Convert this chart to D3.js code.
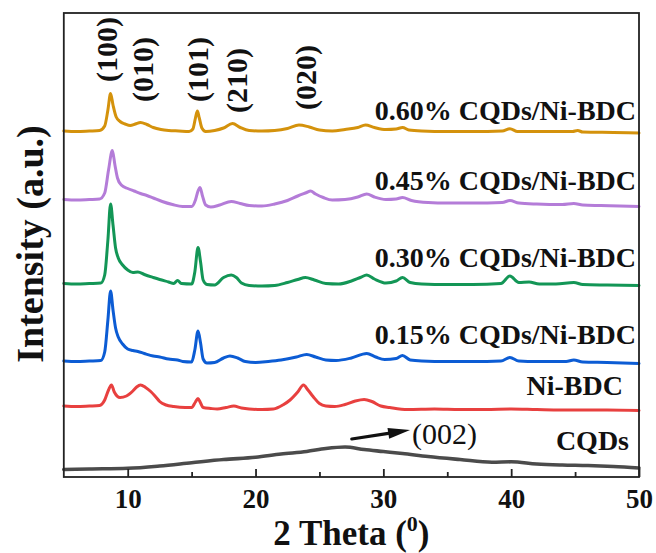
<!DOCTYPE html>
<html>
<head>
<meta charset="utf-8">
<script src="https://cdn.jsdelivr.net/npm/d3@7"></script>
<style>
  body { margin: 0; background: #fff; }
  text { font-family: "Times New Roman", "Liberation Serif", serif; fill: #111; }
</style>
</head>
<body>
<svg id="chart" width="656" height="553"></svg>
<script>
// 2θ axis ticks
const xMajorTicks = [10, 20, 30, 40, 50];
const xMinorTicks = [15, 25, 35, 45];

// Sample names, bottom to top, and their trace colours
const seriesNames = ["CQDs", "Ni-BDC", "0.15% CQDs/Ni-BDC", "0.30% CQDs/Ni-BDC", "0.45% CQDs/Ni-BDC", "0.60% CQDs/Ni-BDC"];
const seriesColors = ["#4b4b4b", "#e8403f", "#0c5cd4", "#139656", "#b47cd8", "#d4920c"];

// XRD patterns, [2θ (deg), stacked intensity (a.u.)]
const cqds = [[5,7.5],[7,8],[10,8.7],[12.5,11],[15,14.3],[17.5,17.5],[20,19.7],[22,23],[24,25.5],[25.5,28.5],[27,30],[28.5,27.5],[30,25.5],[31.5,23.5],[33.5,20.5],[36,17.5],[38.5,14.8],[40,15.2],[42,13],[44,12],[46,11.5],[48,10.5],[50,9]];
const niBdc = [[5,71],[6,70.5],[7,71],[7.8,71.5],[8.2,77],[8.5,87],[8.73,92],[8.95,85],[9.4,79.5],[9.9,81],[10.4,86],[10.7,90],[11,92],[11.4,89.5],[11.8,85.5],[12.2,80],[12.5,75.5],[13,72],[13.6,70.5],[14.5,69.5],[15,69.5],[15.3,75],[15.5,78.5],[15.7,74],[15.9,69.5],[16.5,68.5],[17,68],[17.7,69.5],[18.3,71],[18.9,69],[19.5,68],[20.5,67.5],[21.4,68],[22.2,72.5],[22.7,77],[23.3,85],[23.75,92],[24.1,87],[24.5,80.5],[25,73.5],[25.5,71],[26.2,70.5],[27,72.5],[27.8,76],[28.5,77.5],[29.1,75.5],[29.8,71],[30.5,69.5],[31.9,67.5],[34,68],[36,67.5],[38,67.5],[40,68],[42,67.5],[45,67],[47.5,67],[50,66.5]];
const cqd015 = [[5,116],[6,115.5],[7,116],[7.9,116.5],[8.2,125],[8.45,157],[8.66,186],[8.85,167],[9.05,149],[9.26,140],[9.6,133],[10,128],[10.4,126.5],[10.8,125.5],[11.3,123.5],[12,121],[12.5,120],[13.2,118],[13.9,117],[14.3,115.5],[15,115],[15.25,127],[15.5,146],[15.7,134],[15.9,118],[16.2,114],[16.8,114.5],[17.5,119],[18,121],[18.6,119],[19.2,115.5],[20,114.5],[21,115.5],[22,117],[23.2,120],[24,122.5],[24.7,120],[25.5,117],[26.3,116.5],[27.5,119],[28.7,123.5],[29.4,120],[30.1,117.5],[31,118.5],[31.5,121.5],[32.1,117],[33,116],[35,115.5],[37,115.5],[39.2,116],[39.9,119.5],[40.6,116],[42,115.5],[44.3,115.5],[44.9,117],[45.6,115],[47.5,114.5],[50,113.5]];
const cqd030 = [[5,193.5],[6,193],[7,193.5],[7.9,194],[8.2,202],[8.45,237],[8.66,273],[8.85,252],[9.05,229],[9.26,219],[9.6,212],[10,207],[10.4,204.5],[10.8,205],[11.3,202.5],[12,199.5],[12.5,197.5],[13.2,195],[13.6,193.5],[13.9,196.5],[14.2,193.5],[15,193],[15.25,205],[15.5,229.5],[15.7,215],[15.9,197],[16.2,192.5],[16.8,192],[17.5,199.5],[18.1,202],[18.5,199.5],[18.9,194],[19.5,191.5],[20.5,191],[21.5,191.5],[22.5,194.5],[23.3,197.5],[23.9,199.5],[24.6,197],[25.5,193.5],[26.5,193],[27.5,196],[28.2,199.5],[28.7,202],[29.3,198],[30.2,194],[31,196],[31.5,199.5],[32.1,194.5],[33,193],[35,192.5],[37,192.5],[39.2,193.5],[39.9,201],[40.6,194.5],[41.4,195],[42.2,193],[43.5,193],[44.9,194.5],[45.6,192.5],[47.5,192],[50,191.5]];
const cqd045 = [[5,277.5],[6,277],[7,277.5],[7.8,278],[8.2,284],[8.5,307],[8.8,326.5],[9,312],[9.2,299],[9.5,292],[10,288.5],[10.5,286],[11,283.5],[11.5,281.5],[12,279],[12.7,275.5],[13.5,272.5],[14.3,270.5],[15,270.5],[15.3,277],[15.5,286],[15.66,289.5],[15.85,281],[16.1,272],[16.5,270],[17.2,272],[18.1,275.5],[18.8,273.5],[19.5,271.5],[20.5,271],[21.5,273],[22.5,276.5],[23.3,281],[24,284.5],[24.3,286],[24.7,283],[25.3,279.5],[26,277],[27,277.5],[28,280],[28.7,283],[29.3,280],[30.2,277.5],[31,278],[31.5,279.5],[32.2,276.5],[33.5,274.5],[35,274],[37,274],[39.3,274.5],[39.9,276.5],[40.6,274],[42,273],[44,272.5],[44.9,273.5],[45.6,272],[47,271.5],[48.5,271],[50,270.5]];
const cqd060 = [[5,346],[6,345.5],[7,346],[7.8,346.5],[8.2,351],[8.45,367],[8.66,383.5],[8.85,372],[9.1,360],[9.4,355.5],[9.8,353],[10.2,351.5],[10.6,353],[11,354.5],[11.5,352.5],[12,349.5],[12.6,347.5],[13.2,346.5],[14,346],[14.8,345.5],[15.1,348],[15.3,359],[15.45,366],[15.6,359],[15.8,349],[16.1,345.5],[16.8,346.5],[17.5,349],[18.2,353.5],[18.8,349.5],[19.5,346.5],[20.5,346],[21.5,346.5],[22.5,348.5],[23.4,352],[24.2,350],[25,347],[26,346],[27,347.5],[28,349.5],[28.6,352],[29.3,349.5],[30.2,347.5],[31,348],[31.5,349.5],[32,347],[33,346],[35,345.5],[37,345.5],[39.3,346],[39.9,348.3],[40.5,345.5],[42,345.5],[44.8,345.5],[45.2,346.5],[45.6,345],[48,344.5],[50,344]];

const patterns = [cqds, niBdc, cqd015, cqd030, cqd045, cqd060];

// Miller indices of the Ni-BDC reflections, [2θ, label]
const reflections = [[8.5, "(100)"], [11.35, "(010)"], [15.65, "(101)"], [18.7, "(210)"], [24.1, "(020)"]];

const svg = d3.select("#chart");
const plot = { left: 63.8, right: 639, top: 13, bottom: 477 };

const x = d3.scaleLinear().domain([5, 50]).range([plot.left, plot.right]);
const y = d3.scaleLinear().domain([0, 464]).range([plot.bottom, plot.top]);

// traces
const line = d3.line()
  .x(d => x(d[0]))
  .y(d => y(d[1]))
  .curve(d3.curveMonotoneX);

svg.append("g")
  .selectAll("path")
  .data(patterns)
  .join("path")
  .attr("d", line)
  .attr("fill", "none")
  .attr("stroke", (d, i) => seriesColors[i])
  .attr("stroke-width", (d, i) => i === 0 ? 3.6 : 3)
  .attr("stroke-linejoin", "round")
  .attr("stroke-linecap", "round");

// frame
svg.append("rect")
  .attr("x", plot.left).attr("y", plot.top)
  .attr("width", plot.right - plot.left).attr("height", plot.bottom - plot.top)
  .attr("fill", "none").attr("stroke", "#222").attr("stroke-width", 1.8);

// bottom axis with inward ticks
const xAxis = svg.append("g")
  .attr("transform", `translate(0,${plot.bottom})`)
  .call(d3.axisBottom(x).tickValues(xMajorTicks).tickSize(-8).tickFormat(d3.format("d")));
xAxis.select(".domain").remove();
xAxis.selectAll(".tick line").attr("stroke", "#222").attr("stroke-width", 1.8);
xAxis.selectAll(".tick text")
  .attr("y", 30.5).attr("dy", null)
  .attr("fill", "#111")
  .style("font-size", "27px").style("font-weight", "bold")
  .style("font-family", "'Times New Roman','Liberation Serif',serif");

const xMinor = svg.append("g")
  .attr("transform", `translate(0,${plot.bottom})`)
  .call(d3.axisBottom(x).tickValues(xMinorTicks).tickSize(-5).tickFormat(""));
xMinor.select(".domain").remove();
xMinor.selectAll(".tick line").attr("stroke", "#222").attr("stroke-width", 1.8);

// axis titles
const xTitle = svg.append("text")
  .attr("x", (plot.left + plot.right) / 2).attr("y", 544.5)
  .attr("text-anchor", "middle")
  .style("font-size", "35px").style("font-weight", "bold");
xTitle.append("tspan").text("2 Theta (");
xTitle.append("tspan").attr("dy", -14).style("font-size", "22px").text("0");
xTitle.append("tspan").attr("dy", 14).text(")");

svg.append("text")
  .attr("transform", "translate(42.5,244) rotate(-90)")
  .attr("text-anchor", "middle")
  .style("font-size", "38px").style("font-weight", "bold")
  .text("Intensity (a.u.)");

// sample labels: right edge and baseline level (a.u.)
const labelRight = [629, 623, 636, 636, 636, 636];
const labelLevel = [27, 82, 133, 210, 287, 357];
svg.append("g")
  .selectAll("text")
  .data(seriesNames)
  .join("text")
  .attr("x", (d, i) => labelRight[i])
  .attr("y", (d, i) => y(labelLevel[i]))
  .attr("text-anchor", "end")
  .style("font-size", "28px").style("font-weight", "bold")
  .text(d => d);

// reflection labels, rotated, above the top pattern
const reflBase = [395, 375, 375, 364, 367];
svg.append("g")
  .selectAll("text")
  .data(reflections)
  .join("text")
  .attr("transform", (d, i) => `translate(${x(d[0])},${y(reflBase[i])}) rotate(-90)`)
  .attr("dy", "0.27em")
  .style("font-size", "30px").style("font-weight", "bold")
  .text(d => d[1]);

// (002) annotation for the broad carbon hump
const arrowFrom = [27.53, 38], arrowTo = [32.09, 47];
const ax0 = x(arrowFrom[0]), ay0 = y(arrowFrom[1]);
const ax1 = x(arrowTo[0]), ay1 = y(arrowTo[1]);
const ang = Math.atan2(ay1 - ay0, ax1 - ax0);
const headLen = 22, headHalf = 5.5;
const bx = ax1 - headLen * Math.cos(ang), by = ay1 - headLen * Math.sin(ang);
svg.append("line")
  .attr("x1", ax0).attr("y1", ay0).attr("x2", bx).attr("y2", by)
  .attr("stroke", "#111").attr("stroke-width", 3.2).attr("stroke-linecap", "round");
svg.append("polygon")
  .attr("points", [
    [ax1, ay1],
    [bx - headHalf * Math.sin(ang), by + headHalf * Math.cos(ang)],
    [bx + headHalf * Math.sin(ang), by - headHalf * Math.cos(ang)]
  ].map(p => p.join(",")).join(" "))
  .attr("fill", "#111");
svg.append("text")
  .attr("x", x(32.25)).attr("y", y(33))
  .style("font-size", "30px").style("font-weight", "normal")
  .text("(002)");
</script>
</body>
</html>
